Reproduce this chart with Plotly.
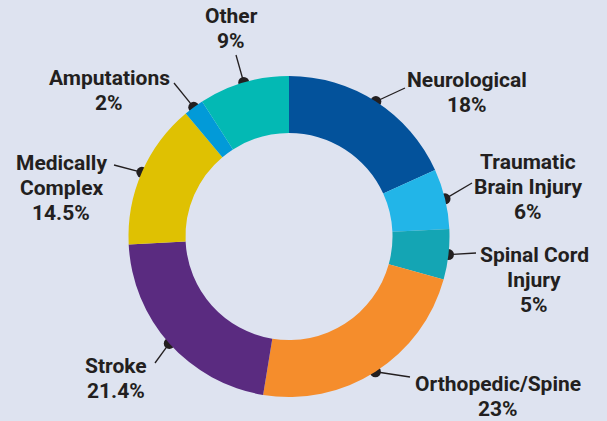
import math
import plotly.graph_objects as go

# ---- data ----
categories = ["Neurological", "Traumatic<br>Brain Injury", "Spinal Cord<br>Injury",
              "Orthopedic/Spine", "Stroke", "Medically<br>Complex", "Amputations", "Other"]
values = [18, 6, 5, 23, 21.4, 14.5, 2, 9]
colors = ["#03529b", "#22b5e8", "#14a5b4", "#f58d2c", "#5a2b80", "#dfc102", "#029ad8", "#03b9b4"]

# ---- layout constants (pixel space of 607x421 canvas) ----
W, H = 607, 421
CX, CY, R = 289, 236.5, 160.5
HOLE = 0.645
label_x = [467, 528, 534, 498, 116, 61, 109, 231]
label_y = [92, 187, 280, 396, 378, 188, 90, 28]
line_end_x = [405, 472, 476, 410, 155, 114, 174, 236]
line_end_y = [88, 183, 253, 377, 363, 165, 83, 55]
LINE_GAP = 25
BG = "#dee3f0"
INK = "#231f20"
FONT = "Roboto"
FONT_SIZE = 21

fig = go.Figure()
fig.add_trace(go.Pie(
    labels=categories, values=values, sort=False, direction="clockwise", rotation=0,
    hole=HOLE, marker=dict(colors=colors, line=dict(width=0)),
    textinfo="none", hoverinfo="label+value", showlegend=False,
    domain=dict(x=[(CX - R) / W, (CX + R) / W],
                y=[(H - CY - R) / H, (H - CY + R) / H]),
))

# dots at the outer edge, at the middle of each slice
total = sum(values)
cum = 0
dot_x, dot_y = [], []
for v in values:
    mid = (cum + v / 2) / total * 2 * math.pi
    cum += v
    dot_x.append(CX + R * math.sin(mid))
    dot_y.append(CY - R * math.cos(mid))

for i in range(len(values)):
    fig.add_trace(go.Scatter(
        x=[dot_x[i], line_end_x[i]], y=[dot_y[i], line_end_y[i]], mode="lines",
        line=dict(color=INK, width=1.3), hoverinfo="skip", showlegend=False))
fig.add_trace(go.Scatter(
    x=dot_x, y=dot_y, mode="markers", marker=dict(color=INK, size=11),
    hoverinfo="skip", showlegend=False))

for i, (c, v) in enumerate(zip(categories, values)):
    lines = c.split("<br>") + [f"{v:g}%"]
    n = len(lines)
    for j, ln in enumerate(lines):
        fig.add_annotation(
            x=label_x[i], y=label_y[i] + (j - (n - 1) / 2) * LINE_GAP, xref="x", yref="y",
            text=f"<b>{ln}</b>", showarrow=False, align="center",
            xanchor="center", yanchor="middle",
            font=dict(family=FONT, size=FONT_SIZE, color=INK))

fig.update_layout(
    width=W, height=H, margin=dict(l=0, r=0, t=0, b=0),
    paper_bgcolor=BG, plot_bgcolor="rgba(0,0,0,0)",
    xaxis=dict(range=[0, W], visible=False, fixedrange=True),
    yaxis=dict(range=[H, 0], visible=False, fixedrange=True),
)
fig.write_html("out.html", config={"displayModeBar": False},
               post_script="document.body.style.margin='0';document.body.style.background='" + BG + "';")
